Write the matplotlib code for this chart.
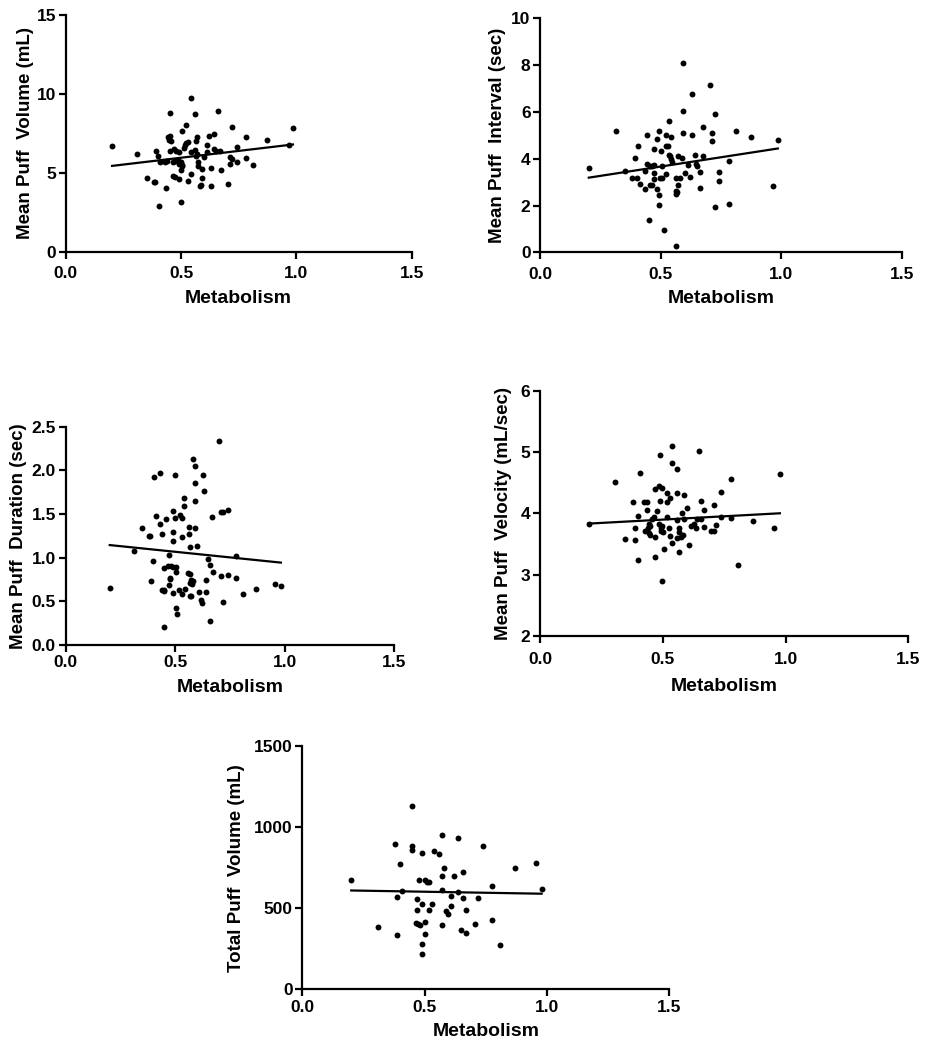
import matplotlib
matplotlib.use("Agg")
import matplotlib.pyplot as plt
import numpy as np

plt.rcParams['font.family'] = ['Liberation Sans', 'DejaVu Sans']
plt.rcParams['font.weight'] = 'bold'

# ---------------- data ----------------
vol_x = [0.201, 0.311, 0.351, 0.381, 0.387, 0.390, 0.403, 0.401, 0.407, 0.430, 0.440, 0.433,
         0.452, 0.443, 0.452, 0.448, 0.458, 0.452, 0.471, 0.477, 0.491, 0.464, 0.472, 0.491,
         0.464, 0.475, 0.487, 0.490, 0.501, 0.503, 0.501, 0.506, 0.501, 0.503, 0.516, 0.513,
         0.522, 0.532, 0.523, 0.532, 0.543, 0.543, 0.542, 0.562, 0.563, 0.569, 0.562, 0.563,
         0.571, 0.574, 0.574, 0.581, 0.587, 0.591, 0.591, 0.601, 0.614, 0.613, 0.622, 0.632,
         0.632, 0.642, 0.642, 0.653, 0.671, 0.662, 0.672, 0.703, 0.711, 0.723, 0.713, 0.723,
         0.743, 0.743, 0.782, 0.782, 0.814, 0.874, 0.985, 0.968]
vol_y = [6.67, 6.20, 4.69, 4.39, 4.43, 6.37, 2.89, 6.06, 5.70, 5.67, 5.72, 4.01,
         8.82, 7.24, 7.32, 7.07, 7.00, 6.39, 6.50, 6.37, 6.33, 4.81, 4.75, 4.62,
         5.70, 5.72, 5.78, 5.55, 5.68, 5.51, 5.17, 5.42, 3.13, 7.68, 6.75, 6.58,
         6.88, 6.94, 8.00, 4.45, 9.73, 4.90, 6.31, 8.71, 7.02, 7.24, 6.44, 6.06,
         6.18, 5.70, 5.42, 4.18, 4.22, 4.70, 5.23, 6.01, 6.33, 6.79, 7.32, 5.28,
         4.18, 7.43, 6.50, 6.35, 6.37, 8.92, 5.17, 4.30, 5.53, 7.89, 6.01, 5.87,
         5.70, 6.61, 7.28, 5.93, 5.51, 7.05, 7.83, 6.79]
vol_fit = (5.09, 1.73)  # intercept, slope

int_x = [0.201, 0.312, 0.351, 0.379, 0.401, 0.391, 0.404, 0.412, 0.433, 0.433, 0.443, 0.443,
         0.454, 0.463, 0.473, 0.452, 0.456, 0.463, 0.472, 0.472, 0.472, 0.483, 0.483, 0.492,
         0.492, 0.494, 0.497, 0.505, 0.502, 0.504, 0.512, 0.522, 0.522, 0.531, 0.522, 0.533,
         0.533, 0.537, 0.542, 0.542, 0.547, 0.562, 0.581, 0.562, 0.562, 0.571, 0.567, 0.570,
         0.588, 0.563, 0.591, 0.591, 0.592, 0.602, 0.612, 0.619, 0.631, 0.631, 0.642, 0.649,
         0.644, 0.662, 0.662, 0.673, 0.673, 0.702, 0.713, 0.713, 0.723, 0.723, 0.742, 0.742,
         0.782, 0.782, 0.813, 0.874, 0.963, 0.985]
int_y = [3.60, 5.17, 3.46, 3.19, 3.17, 4.01, 4.54, 2.94, 2.69, 3.47, 5.01, 3.79,
         3.70, 3.70, 3.71, 1.37, 2.86, 2.87, 4.43, 3.39, 3.14, 4.83, 2.69, 5.17,
         2.43, 2.04, 3.16, 3.16, 4.31, 3.70, 0.96, 5.01, 4.53, 4.56, 3.36, 5.60,
         4.17, 4.10, 4.93, 4.00, 3.86, 3.17, 3.17, 2.64, 2.49, 2.87, 2.57, 4.10,
         4.03, 0.27, 8.11, 6.03, 5.09, 3.40, 3.71, 3.23, 6.77, 5.03, 4.17, 3.70,
         3.76, 3.43, 2.76, 5.36, 4.10, 7.14, 5.09, 4.74, 5.90, 1.93, 3.43, 3.03,
         3.89, 2.07, 5.17, 4.94, 2.83, 4.80]
int_fit = (2.87, 1.59)

dur_x = [0.201, 0.311, 0.348, 0.378, 0.387, 0.390, 0.401, 0.399, 0.410, 0.430, 0.430, 0.439,
         0.439, 0.447, 0.451, 0.450, 0.450, 0.460, 0.470, 0.466, 0.470, 0.474, 0.477, 0.482,
         0.491, 0.502, 0.489, 0.491, 0.491, 0.491, 0.500, 0.500, 0.502, 0.502, 0.509, 0.517,
         0.520, 0.530, 0.529, 0.529, 0.543, 0.541, 0.541, 0.561, 0.561, 0.559, 0.566, 0.566,
         0.573, 0.567, 0.572, 0.575, 0.567, 0.581, 0.579, 0.588, 0.588, 0.588, 0.588, 0.601,
         0.610, 0.617, 0.622, 0.628, 0.630, 0.639, 0.639, 0.649, 0.659, 0.660, 0.669, 0.671,
         0.698, 0.707, 0.716, 0.741, 0.709, 0.720, 0.739, 0.777, 0.779, 0.809, 0.869, 0.957,
         0.982]
dur_y = [0.649, 1.073, 1.344, 1.244, 1.252, 0.729, 1.920, 0.958, 1.481, 1.969, 1.389, 1.271,
         0.630, 0.615, 0.634, 0.210, 0.885, 1.443, 1.034, 0.908, 0.683, 0.767, 0.756, 0.908,
         0.893, 0.897, 1.531, 1.294, 1.195, 0.592, 1.950, 1.454, 0.832, 0.420, 0.351, 0.630,
         1.489, 1.450, 1.233, 0.584, 0.641, 1.679, 1.592, 1.351, 1.275, 0.828, 0.817, 0.565,
         0.557, 1.122, 0.740, 0.702, 0.710, 0.729, 2.134, 2.046, 1.855, 1.653, 1.344, 1.134,
         0.607, 0.519, 0.485, 1.950, 1.763, 0.740, 0.611, 0.985, 0.920, 0.271, 1.462, 0.836,
         2.336, 1.519, 1.519, 1.542, 0.794, 0.492, 0.798, 1.023, 0.771, 0.584, 0.637, 0.695,
         0.672]
dur_fit = (1.196, -0.257)

vel_x = [0.198, 0.307, 0.346, 0.377, 0.387, 0.387, 0.398, 0.398, 0.407, 0.425, 0.434, 0.427,
         0.438, 0.437, 0.445, 0.449, 0.445, 0.448, 0.455, 0.465, 0.467, 0.467, 0.467, 0.476,
         0.484, 0.495, 0.487, 0.488, 0.486, 0.491, 0.495, 0.491, 0.499, 0.506, 0.516, 0.518,
         0.528, 0.517, 0.526, 0.528, 0.497, 0.537, 0.537, 0.537, 0.556, 0.556, 0.558, 0.559,
         0.566, 0.566, 0.566, 0.577, 0.574, 0.583, 0.588, 0.586, 0.597, 0.607, 0.616, 0.627,
         0.635, 0.638, 0.657, 0.646, 0.657, 0.668, 0.668, 0.695, 0.708, 0.707, 0.718, 0.738,
         0.738, 0.776, 0.776, 0.806, 0.867, 0.954, 0.977]
vel_y = [3.826, 4.516, 3.582, 4.179, 3.766, 3.560, 3.962, 3.234, 4.658, 4.179, 4.179, 3.707,
         3.761, 4.054, 3.832, 3.793, 3.685, 3.652, 3.913, 3.935, 4.402, 3.614, 3.293, 4.038,
         4.440, 4.413, 4.951, 4.196, 3.821, 3.761, 3.788, 3.707, 3.696, 3.413, 4.326, 4.185,
         4.255, 3.935, 3.755, 3.630, 2.897, 5.098, 4.826, 3.522, 4.717, 4.337, 3.891, 3.598,
         3.766, 3.696, 3.370, 4.000, 3.620, 3.641, 3.902, 4.293, 4.092, 3.484, 3.793, 3.821,
         3.766, 3.913, 3.902, 5.016, 4.196, 4.054, 3.777, 3.707, 3.707, 4.130, 3.815, 4.348,
         3.940, 4.565, 3.918, 3.163, 3.870, 3.761, 4.647]
vel_fit = (3.79, 0.216)

tot_x = [0.200, 0.309, 0.379, 0.388, 0.388, 0.399, 0.407, 0.448, 0.448, 0.448, 0.467, 0.469,
         0.466, 0.473, 0.481, 0.478, 0.489, 0.489, 0.489, 0.489, 0.500, 0.501, 0.501, 0.510,
         0.519, 0.519, 0.529, 0.540, 0.559, 0.569, 0.569, 0.569, 0.569, 0.579, 0.587, 0.597,
         0.609, 0.609, 0.619, 0.636, 0.638, 0.647, 0.658, 0.658, 0.668, 0.669, 0.707, 0.718,
         0.738, 0.777, 0.777, 0.809, 0.868, 0.956, 0.978]
tot_y = [674, 384, 897, 570, 335, 771, 607, 1130, 882, 860, 554, 490,
         411, 401, 393, 671, 841, 523, 277, 217, 674, 415, 343, 663,
         659, 490, 525, 855, 837, 950, 700, 614, 395, 748, 479, 463,
         572, 514, 696, 934, 597, 364, 562, 725, 490, 349, 399, 562,
         882, 636, 426, 275, 748, 781, 616]
tot_fit = (614, -25.6)

x_ticks = [0.0, 0.5, 1.0, 1.5]
x_ticklabels = ["0.0", "0.5", "1.0", "1.5"]
x_label = "Metabolism"

panels = [
    dict(x=vol_x, y=vol_y, fit=vol_fit, ylim=(0, 15), yticks=[0, 5, 10, 15],
         yticklabels=["0", "5", "10", "15"], ylabel="Mean Puff  Volume (mL)",
         rect=[65.7, 15.0, 411.7, 251.7], xpad=5.5, xlabelpad=6, ylabelpad=2),
    dict(x=int_x, y=int_y, fit=int_fit, ylim=(0, 10), yticks=[0, 2, 4, 6, 8, 10],
         yticklabels=["0", "2", "4", "6", "8", "10"], ylabel="Mean Puff  Interval (sec)",
         rect=[540.3, 18.3, 902.0, 252.3], xpad=5.5, xlabelpad=6, ylabelpad=4),
    dict(x=dur_x, y=dur_y, fit=dur_fit, ylim=(0, 2.5), yticks=[0, 0.5, 1.0, 1.5, 2.0, 2.5],
         yticklabels=["0.0", "0.5", "1.0", "1.5", "2.0", "2.5"], ylabel="Mean Puff  Duration (sec)",
         rect=[65.7, 426.7, 394.3, 645.0], xpad=2.5, xlabelpad=6, ylabelpad=3),
    dict(x=vel_x, y=vel_y, fit=vel_fit, ylim=(2, 6), yticks=[2, 3, 4, 5, 6],
         yticklabels=["2", "3", "4", "5", "6"], ylabel="Mean Puff  Velocity (mL/sec)",
         rect=[540.0, 390.7, 908.3, 636.0], xpad=6.5, xlabelpad=8, ylabelpad=6),
    dict(x=tot_x, y=tot_y, fit=tot_fit, ylim=(0, 1500), yticks=[0, 500, 1000, 1500],
         yticklabels=["0", "500", "1000", "1500"], ylabel="Total Puff  Volume (mL)",
         rect=[302.3, 746.3, 669.3, 989.0], xpad=3, xlabelpad=6, ylabelpad=6),
]

W, H = 932, 1050
fig = plt.figure(figsize=(W / 100, H / 100), dpi=100)

for p in panels:
    l, t, r, b = p["rect"]
    ax = fig.add_axes([l / W, 1 - b / H, (r - l) / W, (b - t) / H])
    ax.scatter(p["x"], p["y"], s=18, color="black", zorder=3, clip_on=False, linewidths=0)
    a, m = p["fit"]
    xs = np.array([min(p["x"]), max(p["x"])])
    ax.plot(xs, a + m * xs, color="black", lw=1.6, zorder=2)
    ax.set_xlim(0, 1.5)
    ax.set_ylim(*p["ylim"])
    ax.set_xticks(x_ticks)
    ax.set_xticklabels(x_ticklabels, fontsize=12.5, fontweight="bold")
    ax.set_yticks(p["yticks"])
    ax.set_yticklabels(p["yticklabels"], fontsize=12.5, fontweight="bold")
    ax.set_xlabel(x_label, fontsize=14, fontweight="bold", labelpad=p["xlabelpad"])
    ax.set_ylabel(p["ylabel"], fontsize=13.5, fontweight="bold", labelpad=p["ylabelpad"])
    for s in ["top", "right"]:
        ax.spines[s].set_visible(False)
    for s in ["left", "bottom"]:
        ax.spines[s].set_linewidth(1.6)
    ax.tick_params(direction="out", length=5, width=1.6, pad=2, colors="black")
    ax.tick_params(axis="x", pad=p["xpad"])

fig.savefig("out.png", dpi=100, facecolor="white")
